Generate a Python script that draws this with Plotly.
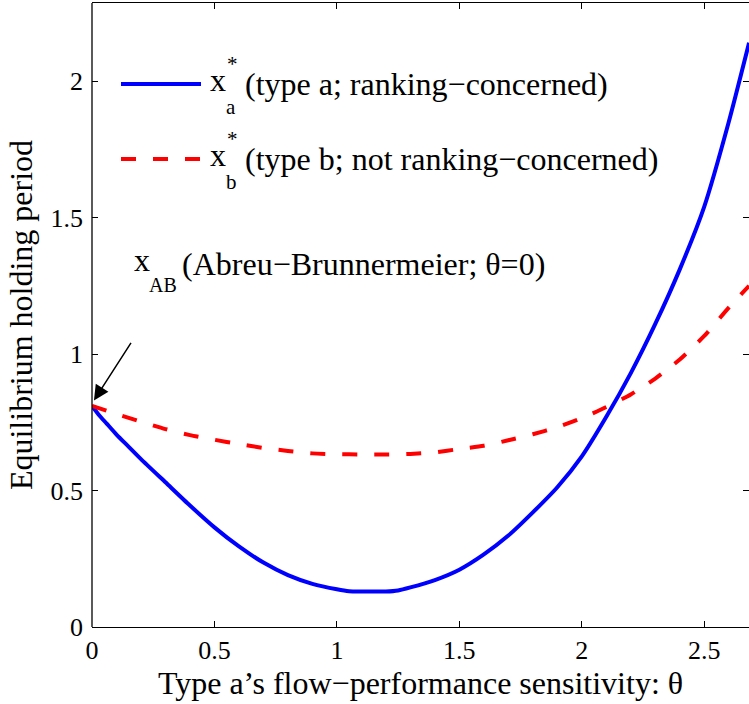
import plotly.graph_objects as go

# ---- data ----
theta_a = [0.0, 0.03, 0.06, 0.1, 0.15, 0.2, 0.3, 0.4, 0.5, 0.6, 0.7, 0.8, 0.9, 1.0, 1.05, 1.1,
           1.2, 1.25, 1.3, 1.4, 1.5, 1.6, 1.7, 1.8, 1.9, 2.0, 2.1, 2.2, 2.3, 2.4, 2.5, 2.6, 2.683]
x_a = [0.81, 0.775, 0.745, 0.705, 0.66, 0.615, 0.53, 0.445, 0.365, 0.295, 0.236, 0.19, 0.158, 0.138, 0.131, 0.13,
       0.13, 0.134, 0.145, 0.172, 0.21, 0.266, 0.335, 0.42, 0.512, 0.625, 0.77, 0.93, 1.11, 1.31, 1.54, 1.85, 2.14]

theta_b = [0.0, 0.1, 0.2, 0.3, 0.4, 0.5, 0.6, 0.7, 0.8, 0.9, 1.0, 1.1, 1.2, 1.3, 1.4,
           1.5, 1.6, 1.7, 1.8, 1.9, 2.0, 2.1, 2.2, 2.3, 2.4, 2.5, 2.6, 2.683]
x_b = [0.81, 0.78, 0.752, 0.725, 0.703, 0.686, 0.67, 0.656, 0.645, 0.636, 0.633, 0.632, 0.632, 0.634, 0.64,
       0.652, 0.664, 0.684, 0.706, 0.732, 0.765, 0.806, 0.852, 0.91, 0.98, 1.066, 1.17, 1.25]

x_ticks = [0, 0.5, 1, 1.5, 2, 2.5]
x_tick_labels = ["0", "0.5", "1", "1.5", "2", "2.5"]
y_ticks = [0, 0.5, 1, 1.5, 2]
y_tick_labels = ["0", "0.5", "1", "1.5", "2"]

x_label = "Type a’s flow−performance sensitivity: θ"
y_label = "Equilibrium holding period"
legend_a = "(type a; ranking−concerned)"
legend_b = "(type b; not ranking−concerned)"
ab_text = "(Abreu−Brunnermeier; θ=0)"
ab_point = (0.008, 0.83)

# ---- layout geometry ----
W, H = 749, 704
L, T, R, B = 92, 3, 0, 77
PW, PH = W - L - R, H - T - B
XMAX = 2.6827
YMAX = 2.2857
FONT = "Liberation Serif"
FS_TICK = 26
FS_BIG = 32
FS_SMALL = 21

def px(xp):
    return (xp - L) / PW

def py(yp):
    return (H - B - yp) / PH

blue = "#0000ff"
red = "#ff0000"

fig = go.Figure()
fig.add_trace(go.Scatter(x=theta_a, y=x_a, mode="lines", line_shape="spline",
                         line=dict(color=blue, width=4, smoothing=0.6), showlegend=False))
fig.add_trace(go.Scatter(x=theta_b, y=x_b, mode="lines", line_shape="spline",
                         line=dict(color=red, width=4, dash="15px,17px", smoothing=0.6),
                         showlegend=False))

shapes = [
    dict(type="line", xref="paper", yref="paper", x0=0, x1=0, y0=0, y1=1,
         line=dict(color="black", width=1.3)),
    dict(type="line", xref="paper", yref="paper", x0=px(121), x1=px(201), y0=py(84), y1=py(84),
         line=dict(color=blue, width=4)),
    dict(type="line", xref="paper", yref="paper", x0=px(121), x1=px(201), y0=py(159), y1=py(159),
         line=dict(color=red, width=4, dash="15px,17px")),
]

tick_font = dict(family=FONT, size=FS_TICK, color="black")
big = dict(family=FONT, size=FS_BIG, color="black")
small = dict(family=FONT, size=FS_SMALL, color="black")

def ann(text, xp, yp, f=big, xanchor="left"):
    return dict(text=text, xref="paper", yref="paper", x=px(xp), y=py(yp),
                xanchor=xanchor, yanchor="middle", showarrow=False, font=f, borderpad=0)

annotations = [
    ann("x", 209, 80),
    ann("*", 226, 64, small),
    ann("a", 225, 107, small),
    ann(legend_a, 244, 84),
    ann("x", 209, 155),
    ann("*", 226, 139, small),
    ann("b", 225, 182, small),
    ann(legend_b, 244, 159),
    ann("x", 133, 260),
    ann("AB", 148, 285, dict(family=FONT, size=20, color="black")),
    ann(ab_text, 181, 264),
    dict(text="", x=ab_point[0], y=ab_point[1], xref="x", yref="y",
         showarrow=True, ax=38, ay=-59, axref="pixel", ayref="pixel",
         arrowhead=2, arrowsize=2.0, arrowwidth=1.5, arrowcolor="black"),
]

fig.update_layout(
    width=W, height=H,
    margin=dict(l=L, r=R, t=T, b=B, pad=0),
    paper_bgcolor="white", plot_bgcolor="white",
    font=tick_font,
    shapes=shapes,
    annotations=annotations,
    xaxis=dict(range=[0, XMAX], tickvals=x_ticks, ticktext=x_tick_labels,
               ticks="inside", ticklen=6, tickwidth=1, tickcolor="black",
               showline=True, linecolor="black", linewidth=1.3, mirror="ticks",
               showgrid=False, zeroline=False, ticklabelstandoff=0,
               title=dict(text=x_label, font=big, standoff=6),
               tickfont=tick_font),
    yaxis=dict(range=[0, YMAX], tickvals=y_ticks, ticktext=y_tick_labels,
               ticks="inside", ticklen=6, tickwidth=1, tickcolor="black",
               showline=False, mirror="ticks",
               showgrid=False, zeroline=False, ticklabelstandoff=8,
               title=dict(text=y_label, font=big, standoff=8),
               tickfont=tick_font),
)

fig.write_html("out.html")
